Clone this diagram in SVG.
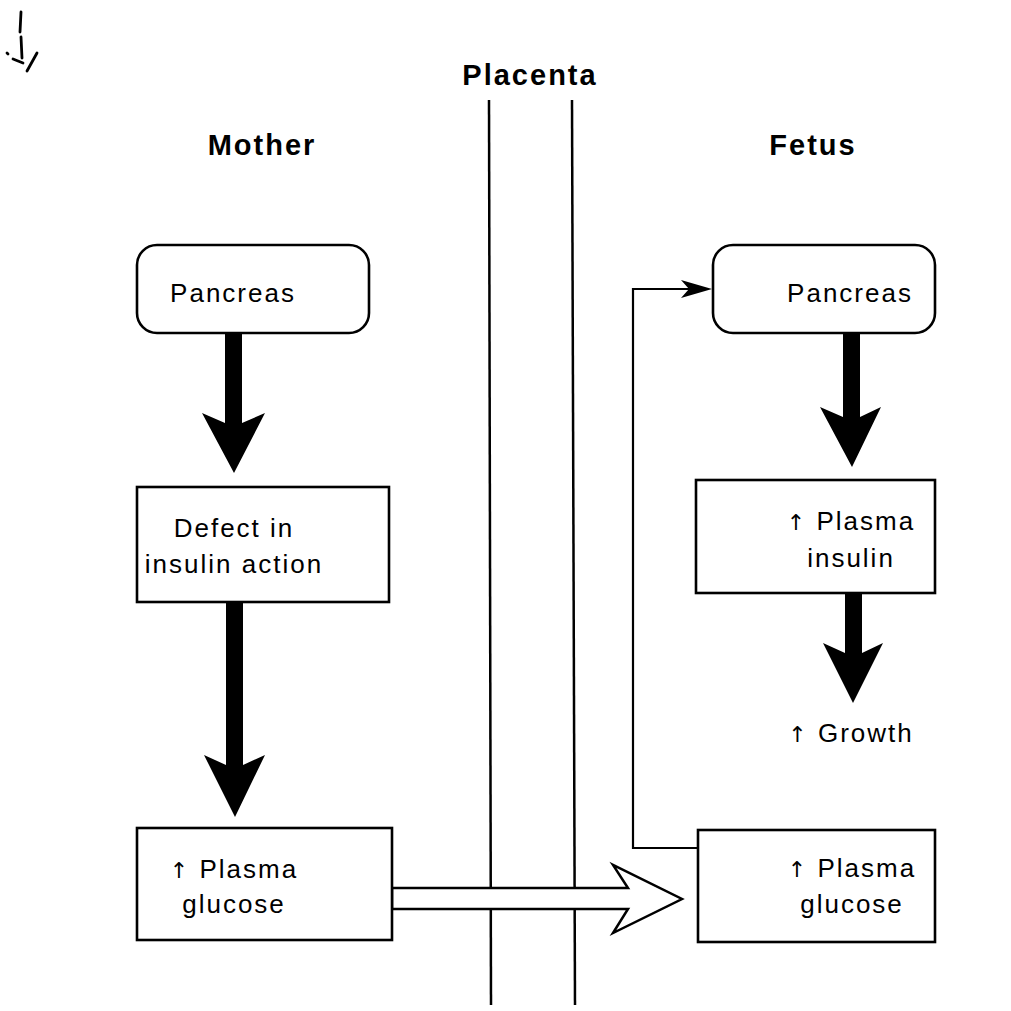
<svg xmlns="http://www.w3.org/2000/svg" width="1011" height="1011" viewBox="0 0 1011 1011">
<style>
.box{fill:#fff;stroke:#000;stroke-width:2.6}
.t{font-family:"Liberation Sans",Arial,sans-serif;font-size:26px;letter-spacing:2px;text-anchor:middle;fill:#000}
.up{font-family:"DejaVu Sans",sans-serif;font-size:22px;fill:#000}
.h{font-family:"Liberation Sans",Arial,sans-serif;font-size:29px;font-weight:bold;letter-spacing:2px;text-anchor:middle;fill:#000}
.thick{fill:#000;stroke:none}
.thin{fill:none;stroke:#000;stroke-width:2.2}
.plac{stroke:#000;stroke-width:2.5}
</style>
<rect width="1011" height="1011" fill="#fff"/>
<g id="corner-mark" fill="none" stroke="#000" stroke-width="2.8" stroke-linecap="round">
<path d="M21 12 L20 32 M21 37 L22 58"/>
<path d="M7 53 L8 54 M13 59 L23 63 M37 53 L27 71"/>
</g>
<g id="headings">
<text class="h" x="530" y="85">Placenta</text>
<text class="h" x="262" y="155">Mother</text>
<text class="h" x="813" y="155">Fetus</text>
</g>
<g id="placenta">
<line class="plac" x1="489" y1="100" x2="491" y2="1005"/>
<line class="plac" x1="572" y1="100" x2="575" y2="1005"/>
</g>
<g id="connectors">
<polygon class="thick" points="225,333 225,423 202,413 234,473 265,413 242,423 242,333"/>
<polygon class="thick" points="226,602 226,765 204,755 235,817 265,755 243,765 243,602"/>
<polygon class="thick" points="843,333 843,417 820,407 852,467 881,407 860,417 860,333"/>
<polygon class="thick" points="845,593 845,653 823,643 853,703 883,643 862,653 862,593"/>
<polygon points="392,888 628,888 613,865 682,899 613,933 628,909 392,909" fill="#fff" stroke="#000" stroke-width="2.5" stroke-linejoin="miter"/>
<polyline class="thin" points="698,848 633,848 633,289 700,289"/>
<polygon class="thick" points="712,289 681,280 689,289 681,298"/>
</g>
<g id="mother-pancreas">
<rect class="box" x="137" y="245" width="232" height="88" rx="20"/>
<text class="t" x="233" y="302">Pancreas</text>
</g>
<g id="mother-defect">
<rect class="box" x="137" y="487" width="252" height="115"/>
<text class="t" x="234" y="537">Defect in</text>
<text class="t" x="234" y="573">insulin action</text>
</g>
<g id="mother-glucose">
<rect class="box" x="137" y="828" width="255" height="112"/>
<text class="t" x="234" y="878"><tspan class="up">↑</tspan> Plasma</text>
<text class="t" x="234" y="913">glucose</text>
</g>
<g id="fetus-pancreas">
<rect class="box" x="713" y="245" width="222" height="88" rx="20"/>
<text class="t" x="850" y="302">Pancreas</text>
</g>
<g id="fetus-insulin">
<rect class="box" x="696" y="480" width="239" height="113"/>
<text class="t" x="851" y="530"><tspan class="up">↑</tspan> Plasma</text>
<text class="t" x="851" y="567">insulin</text>
</g>
<g id="fetus-growth">
<text class="t" x="851" y="742"><tspan class="up">↑</tspan> Growth</text>
</g>
<g id="fetus-glucose">
<rect class="box" x="698" y="830" width="237" height="112"/>
<text class="t" x="852" y="877"><tspan class="up">↑</tspan> Plasma</text>
<text class="t" x="852" y="913">glucose</text>
</g>
</svg>
